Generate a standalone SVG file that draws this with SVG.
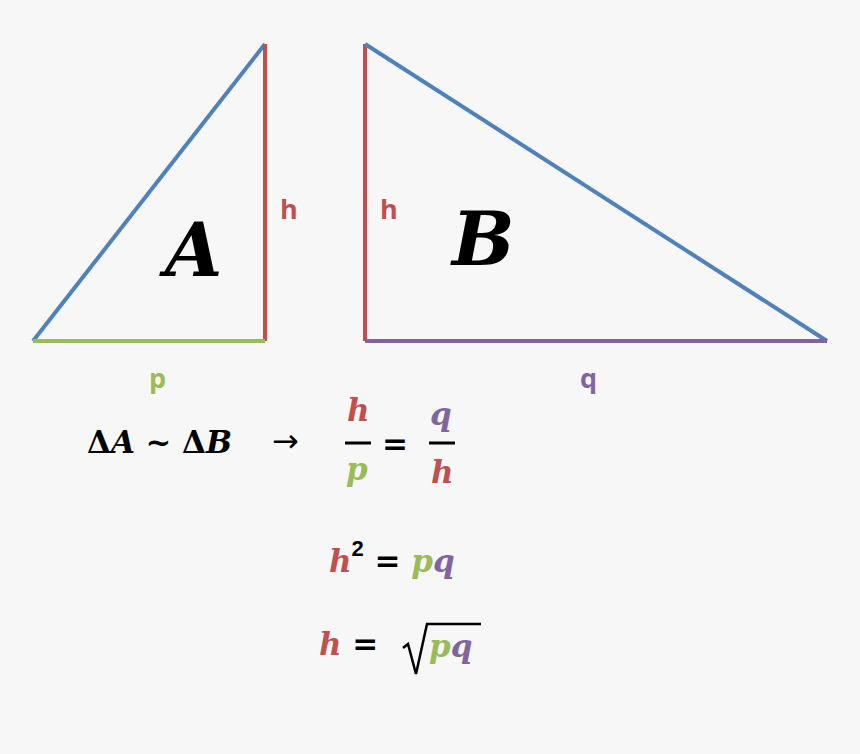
<svg xmlns="http://www.w3.org/2000/svg" width="860" height="754" viewBox="0 0 860 754">
<style>
.ln{stroke-width:4;fill:none;stroke-linecap:butt}
.bl{stroke:#4F81BD}.rd{stroke:#C0504D}.gr{stroke:#9BBB59}.pu{stroke:#8064A2}
.lbl{font-family:"Open Sans","Liberation Sans",sans-serif;font-weight:bold;font-size:27px}
.big{font-family:"DejaVu Serif",serif;font-weight:bold;font-style:italic;font-size:74px;fill:#000}
.m{font-family:"DejaVu Serif",serif;font-weight:bold;font-size:31px;fill:#000}
.i{font-style:italic}
.cr{fill:#C0504D}.cg{fill:#9BBB59}.cp{fill:#8064A2}
</style>
<rect width="860" height="754" fill="#f7f7f7"/>
<g id="connectors">
<line class="ln bl" x1="33" y1="341" x2="265" y2="44"/>
<line class="ln rd" x1="265" y1="44" x2="265" y2="341"/>
<line class="ln gr" x1="33" y1="341" x2="265" y2="341"/>
<line class="ln rd" x1="365" y1="44" x2="365" y2="341"/>
<line class="ln bl" x1="365" y1="44" x2="827" y2="341"/>
<line class="ln pu" x1="365" y1="341" x2="827" y2="341"/>
</g>
<g id="triA">
<text class="big" x="165" y="276">A</text>
<text class="lbl cr" x="280" y="219">h</text>
<text class="lbl cg" x="149" y="388">p</text>
</g>
<g id="triB">
<text class="big" x="452" y="265">B</text>
<text class="lbl cr" x="380" y="219">h</text>
<text class="lbl cp" x="580" y="388">q</text>
</g>
<g id="eq1">
<text class="m" x="87" y="453" textLength="145" lengthAdjust="spacingAndGlyphs">Δ<tspan class="i">A</tspan> ~ Δ<tspan class="i">B</tspan></text>
<text x="272" y="452" style="font-family:'DejaVu Sans',sans-serif;font-weight:normal;font-size:32px;fill:#000">→</text>
<text class="m i cr" x="347" y="421">h</text>
<line x1="345" y1="443" x2="371" y2="443" stroke="#000" stroke-width="3"/>
<text class="m i cg" x="346" y="480">p</text>
<text class="m" x="382" y="455">=</text>
<text class="m i cp" x="430" y="425">q</text>
<line x1="429" y1="443" x2="455" y2="443" stroke="#000" stroke-width="3"/>
<text class="m i cr" x="431" y="483">h</text>
</g>
<g id="eq2">
<text class="m" x="329" y="572"><tspan class="i cr">h</tspan><tspan dy="-16" font-size="22" font-family="Liberation Sans,sans-serif">2</tspan><tspan dy="16"> = </tspan><tspan class="i cg">p</tspan><tspan class="i cp">q</tspan></text>
</g>
<g id="eq3">
<text class="m" x="319" y="655"><tspan class="i cr">h</tspan> =</text>
<path d="M403,648 L408,644 L416,674 L427,624 L481,624" fill="none" stroke="#000" stroke-width="2.5"/>
<text class="m" x="429" y="657"><tspan class="i cg">p</tspan><tspan class="i cp">q</tspan></text>
</g>
</svg>
